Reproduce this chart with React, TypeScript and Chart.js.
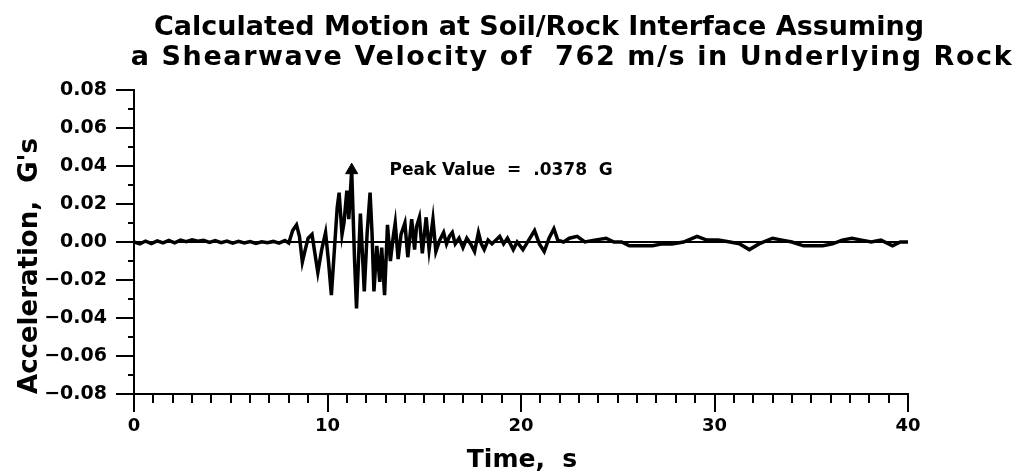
import React, { useEffect, useRef } from "react";
import { Chart, registerables } from "chart.js";

Chart.register(...registerables);

const titleLines = [
  "Calculated Motion at Soil/Rock Interface Assuming",
  "a Shearwave Velocity of  762 m/s in Underlying Rock",
];
const xAxisTitle = "Time,  s";
const yAxisTitle = "Acceleration,  G's";
const peakLabel = "Peak Value  =  .0378  G";

const xMin = 0;
const xMax = 40;
const yMin = -0.08;
const yMax = 0.08;
const xLabelEvery = 10;

// time (s)
const times = [
  0.0, 0.3, 0.6, 0.9, 1.2, 1.5, 1.8, 2.1, 2.4, 2.7, 3.0, 3.3, 3.6, 3.9, 4.2, 4.5,
  4.8, 5.1, 5.4, 5.7, 6.0, 6.3, 6.6, 6.9, 7.2, 7.5, 7.8, 8.0,
  8.2, 8.4, 8.55, 8.7, 8.85, 9.0, 9.2, 9.35, 9.5, 9.7, 9.9, 10.05, 10.2, 10.35,
  10.5, 10.6, 10.75, 10.85, 11.0, 11.1, 11.25, 11.4, 11.5, 11.6, 11.7, 11.8, 11.9,
  12.05, 12.2, 12.3, 12.4, 12.55, 12.7, 12.8, 12.95, 13.1, 13.25, 13.4, 13.5,
  13.65, 13.8, 14.0, 14.15, 14.35, 14.5, 14.6, 14.75, 14.9, 15.1, 15.25, 15.45,
  15.6, 15.8, 16.0, 16.15, 16.3, 16.45, 16.6, 16.8, 17.0, 17.2, 17.4, 17.6, 17.8,
  17.95, 18.1, 18.3, 18.5, 18.9, 19.1, 19.3, 19.6, 19.8, 20.1, 20.4, 20.7, 20.95,
  21.2, 21.45, 21.7, 21.9, 22.2, 22.5, 22.9, 23.3, 23.8, 24.4, 24.8, 25.2, 25.6,
  26.2, 26.8, 27.3, 27.8, 28.4, 29.1, 29.6, 30.2, 30.8, 31.3, 31.8, 32.3, 33.0,
  33.5, 34.0, 34.6, 35.1, 35.6, 36.1, 36.6, 37.1, 37.6, 38.1, 38.6, 39.2, 39.6, 40.0,
];

// acceleration (G)
const accel = [
  0.0, -0.001, 0.0005, -0.0008, 0.0006, -0.0005, 0.0008, -0.0004, 0.001, 0.0002,
  0.0012, 0.0004, 0.0009, -0.0002, 0.0007, -0.0003, 0.0005, -0.0006, 0.0003,
  -0.0005, 0.0002, -0.0007, 0.0001, -0.0004, 0.0003, -0.0006, 0.0008, -0.0005,
  0.006, 0.009, 0.003, -0.0105, -0.004, 0.002, 0.004, -0.006, -0.016, -0.004,
  0.005, -0.01, -0.028, -0.005, 0.018, 0.026, 0.004, 0.01, 0.027, 0.012, 0.0378,
  -0.01, -0.035, -0.01, 0.015, -0.005, -0.026, 0.005, 0.026, 0.005, -0.026,
  -0.002, -0.021, -0.003, -0.028, 0.009, -0.01, 0.003, 0.01, -0.009, 0.004, 0.01,
  -0.008, 0.012, -0.004, 0.008, 0.013, -0.006, 0.013, -0.004, 0.012, -0.005,
  0.001, 0.005, -0.001, 0.003, 0.005, -0.001, 0.002, -0.003, 0.002, -0.001,
  -0.005, 0.005, -0.001, -0.004, 0.001, -0.001, 0.003, -0.001, 0.002, -0.004,
  0.0, -0.004, 0.001, 0.006, -0.001, -0.005, 0.002, 0.007, 0.001, 0.0, 0.002,
  0.003, 0.0, 0.001, 0.002, 0.0, 0.0, -0.002, -0.002, -0.002, -0.001, -0.001,
  0.0, 0.003, 0.001, 0.001, 0.0, -0.001, -0.004, -0.001, 0.002, 0.001, 0.0,
  -0.002, -0.002, -0.002, -0.001, 0.001, 0.002, 0.001, 0.0, 0.001, -0.002, 0.0, 0.0,
];

const peakTime = [11.25];
const peakValue = [0.0378];
const peakLabelTime = 13.2;

const FONT = '"DejaVu Sans", sans-serif';

const decorPlugin = {
  id: "decor",
  afterDraw(chart: any) {
    const { ctx, chartArea, scales } = chart;
    const xs = scales.x;
    const ys = scales.y;
    ctx.save();
    ctx.strokeStyle = "#000";
    ctx.lineWidth = 2;
    ctx.beginPath();
    for (let t = xMin; t <= xMax; t += 1) {
      const px = Math.round(xs.getPixelForValue(t));
      const len = t % xLabelEvery === 0 ? 18 : 9;
      ctx.moveTo(px, chartArea.bottom);
      ctx.lineTo(px, chartArea.bottom + len);
    }
    for (let i = -8; i <= 8; i++) {
      const py = Math.round(ys.getPixelForValue(i / 100));
      const len = i % 2 === 0 ? 18 : 6;
      ctx.moveTo(chartArea.left - len, py);
      ctx.lineTo(chartArea.left, py);
    }
    ctx.stroke();

    ctx.fillStyle = "#000";
    ctx.textAlign = "center";
    ctx.textBaseline = "alphabetic";
    ctx.font = `bold 27px ${FONT}`;
    ctx.fillText(titleLines[0], 539, 35);
    (ctx as any).letterSpacing = "1.6px";
    ctx.fillText(titleLines[1], 572, 65);
    (ctx as any).letterSpacing = "0px";

    ctx.font = `bold 25px ${FONT}`;
    ctx.fillText(xAxisTitle, 522, 467);

    ctx.save();
    ctx.font = `bold 26px ${FONT}`;
    ctx.translate(37, 266);
    ctx.rotate(-Math.PI / 2);
    ctx.fillText(yAxisTitle, 0, 0);
    ctx.restore();

    ctx.font = `bold 17px ${FONT}`;
    ctx.textAlign = "left";
    ctx.textBaseline = "middle";
    ctx.fillText(
      peakLabel,
      xs.getPixelForValue(peakLabelTime),
      ys.getPixelForValue(peakValue[0])
    );
    ctx.restore();
  },
};

export default function App() {
  const canvasRef = useRef<HTMLCanvasElement | null>(null);

  useEffect(() => {
    if (!canvasRef.current) return;
    const chart = new Chart(canvasRef.current, {
      type: "line",
      data: {
        datasets: [
          {
            data: times.map((t, i) => ({ x: t, y: accel[i] })),
            borderColor: "#000",
            borderWidth: 3.5,
            pointRadius: 0,
            tension: 0,
            fill: false,
          },
          {
            data: peakTime.map((t, i) => ({ x: t, y: peakValue[i] })),
            showLine: false,
            pointStyle: "triangle",
            pointRadius: 7,
            backgroundColor: "#000",
            borderColor: "#000",
            borderWidth: 1,
          },
        ],
      },
      options: {
        animation: false,
        responsive: true,
        maintainAspectRatio: false,
        layout: { padding: { top: 90, right: 108, left: 0, bottom: 0 } },
        plugins: {
          legend: { display: false },
          title: { display: false },
          tooltip: { enabled: false },
        },
        scales: {
          x: {
            type: "linear",
            min: xMin,
            max: xMax,
            afterFit: (s: any) => {
              s.height = 81;
            },
            grid: { color: "rgba(0,0,0,0)", drawTicks: false },
            border: { display: true, color: "#000", width: 2 },
            ticks: {
              stepSize: 1,
              autoSkip: false,
              maxRotation: 0,
              padding: 22,
              color: "#000",
              font: { family: FONT, size: 18, weight: "bold" },
              callback: (v: any) => (Number(v) % xLabelEvery === 0 ? String(v) : ""),
            },
          },
          y: {
            type: "linear",
            min: yMin,
            max: yMax,
            afterFit: (s: any) => {
              s.width = 134;
            },
            grid: {
              drawTicks: false,
              lineWidth: 2,
              color: (c: any) =>
                c.tick && Math.abs(c.tick.value) < 1e-9 ? "#000" : "rgba(0,0,0,0)",
            },
            border: { display: true, color: "#000", width: 2 },
            ticks: {
              stepSize: 0.01,
              autoSkip: false,
              padding: 27,
              color: "#000",
              font: { family: FONT, size: 19, weight: "bold" },
              callback: (v: any) => {
                const i = Math.round(Number(v) * 100);
                if (i % 2 !== 0) return "";
                return (i < 0 ? "\u2212" : "") + Math.abs(i / 100).toFixed(2);
              },
            },
          },
        },
      },
      plugins: [decorPlugin],
    });
    return () => chart.destroy();
  }, []);

  return (
    <div style={{ position: "absolute", left: 0, top: 0, width: 1016, height: 475, background: "#fff" }}>
      <canvas ref={canvasRef} />
    </div>
  );
}
